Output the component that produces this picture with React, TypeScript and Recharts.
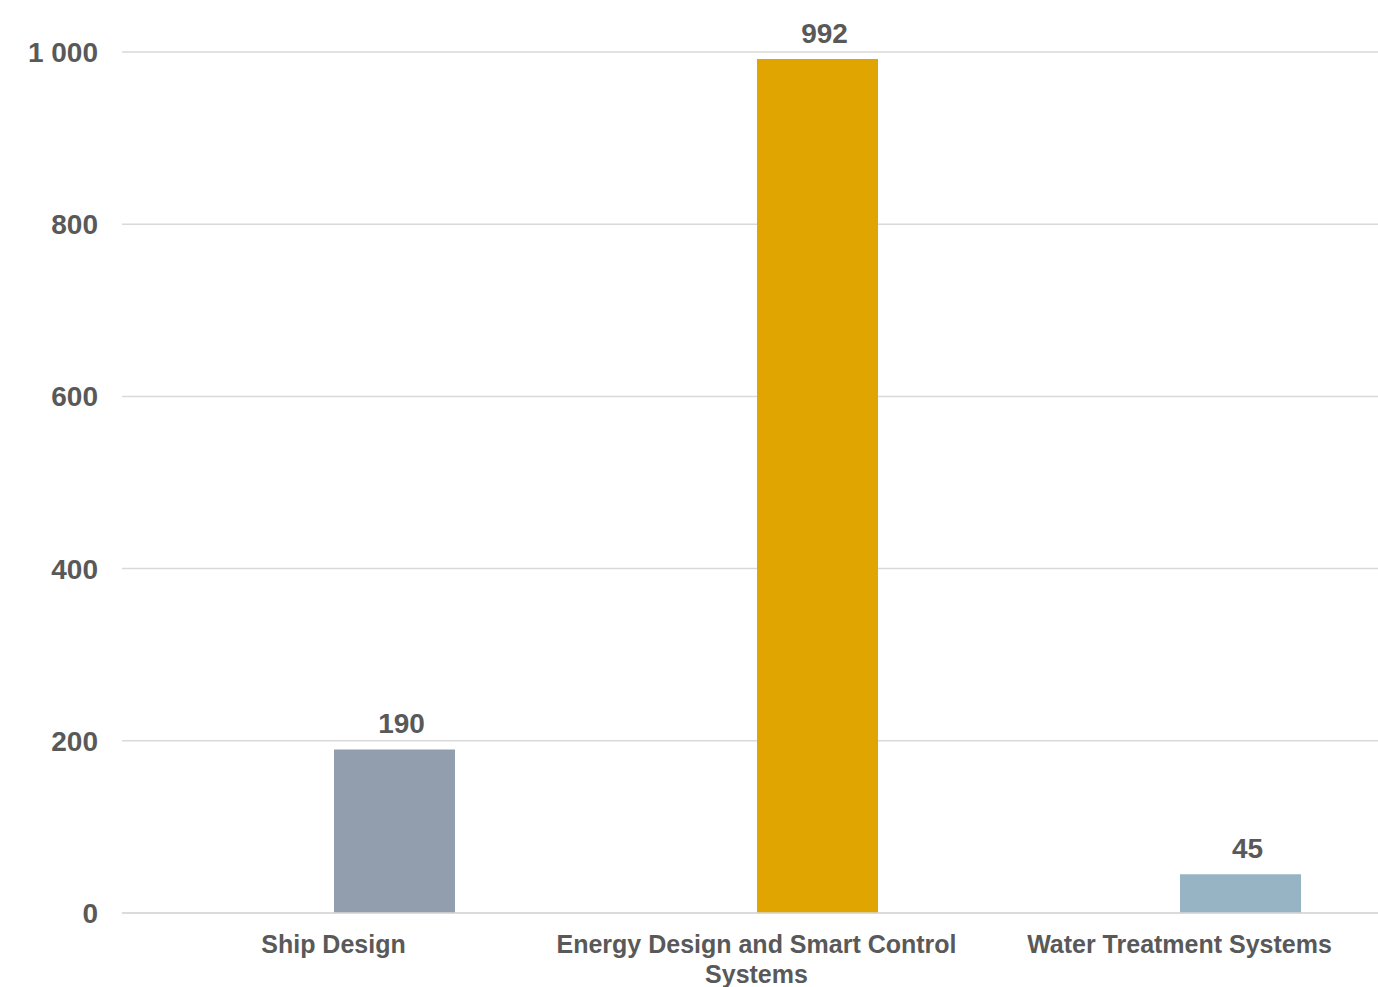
import { Bar, BarChart, CartesianGrid, Cell, LabelList, XAxis, YAxis } from "recharts";

const categories = ["Ship Design", "Energy Design and Smart Control Systems", "Water Treatment Systems"];
const values = [190, 992, 45];
const yTicks = [0, 200, 400, 600, 800, 1000];
const colors = ["#929DAD", "#E0A500", "#97B4C4"];

const data = categories.map((name, i) => ({ name, value: values[i] }));

const FONT = "'Liberation Sans', Arial, sans-serif";
const INK = "#595959";

const fmt = (v: number) => String(v).replace(/\B(?=(\d{3})+(?!\d))/g, " ");

let ctx: CanvasRenderingContext2D | null = null;
function wrap(text: string, maxWidth: number): string[] {
  if (!ctx) ctx = document.createElement("canvas").getContext("2d");
  if (!ctx) return [text];
  ctx.font = `bold 25px ${FONT}`;
  const lines: string[] = [];
  let cur = "";
  for (const w of text.split(" ")) {
    const test = cur ? cur + " " + w : w;
    if (cur && ctx.measureText(test).width > maxWidth) {
      lines.push(cur);
      cur = w;
    } else cur = test;
  }
  if (cur) lines.push(cur);
  return lines;
}

const CatTick = (props: any) => {
  const { x, y, payload } = props;
  const lines = wrap(payload.value, 420);
  return (
    <text x={x} y={y} textAnchor="middle" fontSize={25} fontWeight="bold" fontFamily={FONT} fill={INK}>
      {lines.map((l, i) => (
        <tspan key={i} x={x} dy={i === 0 ? 18 : 30}>
          {l}
        </tspan>
      ))}
    </text>
  );
};

export default function App() {
  return (
    <div style={{ position: "absolute", left: 0, top: 0, width: 1378, height: 987, overflow: "hidden", background: "#fff" }}>
      <BarChart
        width={1391}
        height={987}
        data={data}
        margin={{ top: 52, right: 0, bottom: 0, left: 0 }}
        barGap={0}
      >
        <CartesianGrid vertical={false} stroke="#D9D9D9" strokeWidth={1.5} />
        <XAxis
          dataKey="name"
          height={74}
          tick={<CatTick />}
          tickLine={false}
          tickSize={0}
          tickMargin={22}
          axisLine={{ stroke: "#D9D9D9", strokeWidth: 1.5 }}
          interval={0}
        />
        <YAxis
          width={122}
          domain={[0, 1000]}
          ticks={yTicks}
          tickFormatter={fmt}
          axisLine={false}
          tickLine={false}
          tickSize={0}
          tickMargin={24}
          tick={{ fontSize: 28, fontWeight: "bold", fontFamily: FONT, fill: INK }}
        />
        {/* empty series: Excel left a blank slot in front of each bar */}
        <Bar dataKey="blank" barSize={121} isAnimationActive={false} />
        <Bar dataKey="value" barSize={121} isAnimationActive={false}>
          {data.map((d, i) => (
            <Cell key={d.name} fill={colors[i]} />
          ))}
          <LabelList
            dataKey="value"
            position="top"
            offset={16}
            dx={7}
            fontSize={28}
            fontWeight="bold"
            fontFamily={FONT}
            fill={INK}
          />
        </Bar>
      </BarChart>
    </div>
  );
}
